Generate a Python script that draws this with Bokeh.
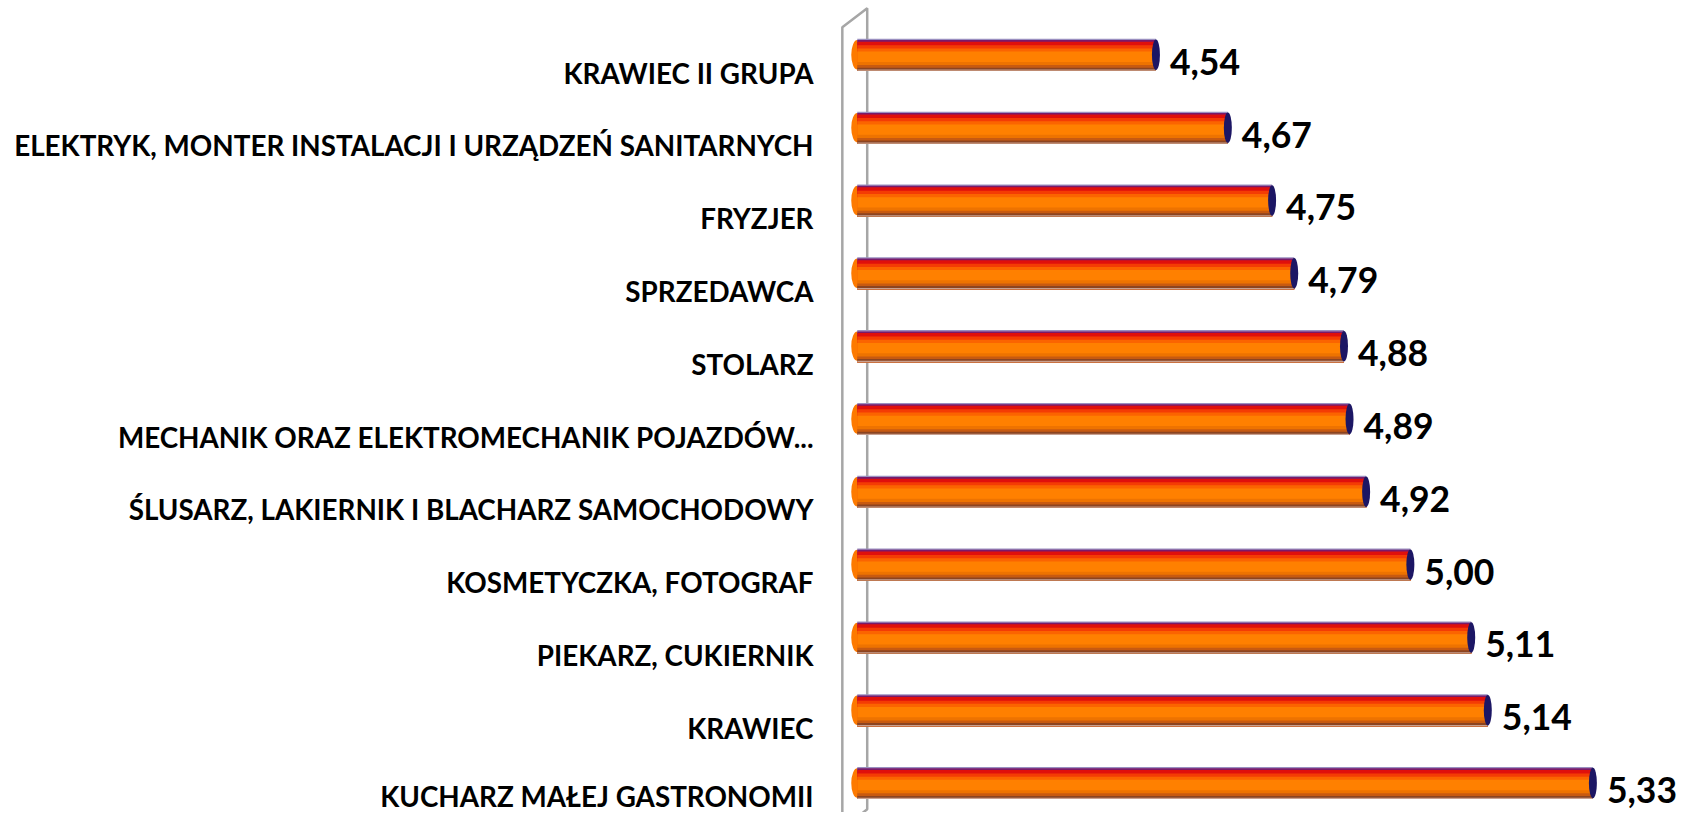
from bokeh.plotting import figure
from bokeh.models import FixedTicker, Range1d, ColumnDataSource
from bokeh.core.properties import value
from bokeh.embed import file_html
from bokeh.resources import INLINE

# ---- data (top to bottom as in the chart) ----
categories = [
    "KRAWIEC II GRUPA",
    "ELEKTRYK, MONTER INSTALACJI I URZĄDZEŃ SANITARNYCH",
    "FRYZJER",
    "SPRZEDAWCA",
    "STOLARZ",
    "MECHANIK ORAZ ELEKTROMECHANIK POJAZDÓW...",
    "ŚLUSARZ, LAKIERNIK I BLACHARZ SAMOCHODOWY",
    "KOSMETYCZKA, FOTOGRAF",
    "PIEKARZ, CUKIERNIK",
    "KRAWIEC",
    "KUCHARZ MAŁEJ GASTRONOMII",
]
values = [4.54, 4.67, 4.75, 4.79, 4.88, 4.89, 4.92, 5.00, 5.11, 5.14, 5.33]

AXIS_MIN = 4.0
n = len(categories)
ypos = [n - 1 - i for i in range(n)]          # top category highest
labels_txt = [f"{v:.2f}".replace(".", ",") for v in values]

BAR_H = 0.44
LABEL_DROP = 0.25

FONT = "Lato"

p = figure(width=1681, height=812, output_backend="svg", toolbar_location=None,
           x_range=Range1d(3.9462, 5.4902), y_range=Range1d(-0.404, 10.746),
           min_border_left=827, min_border_right=0, min_border_top=0, min_border_bottom=0)
p.outline_line_color = None
p.xgrid.visible = False
p.ygrid.visible = False
p.xaxis.visible = False
p.background_fill_color = "white"

# ---- 3D wall (thin side wall) ----
wf = AXIS_MIN - 0.027
wb = AXIS_MIN + 0.018
p.patch([wf, wb, wb, wf], [n - 1 + 0.38, n - 1 + 0.64, -0.36, -0.63],
        fill_color=None, line_color="#a6a6a6", line_width=2.5)

src = ColumnDataSource(dict(y=ypos, v=values, lab=labels_txt))

# left rounded end
p.ellipse(x=AXIS_MIN, y="y", width=12, width_units="screen", height=BAR_H * 0.92,
          fill_color="#fd7a00", line_color=None, source=src)

# cylinder-like gradient bands (start fraction from top, color); each band
# is drawn down to the bottom so that the next one covers it without seams
bands = [
    (0.00, "#9a8fc0"),
    (0.04, "#7a1a6a"),
    (0.09, "#e0100c"),
    (0.20, "#f43c04"),
    (0.30, "#fb6400"),
    (0.40, "#ff8000"),
    (0.72, "#ee7300"),
    (0.82, "#c85a10"),
    (0.90, "#8c4420"),
    (0.96, "#c8a090"),
]
for f0, col in bands:
    hgt = (1.0 - f0) * BAR_H
    off = BAR_H / 2 - f0 * BAR_H - hgt / 2
    p.hbar(y=[y + off for y in ypos], left=AXIS_MIN, right=values,
           height=hgt, fill_color=col, line_color=None)

# right end cap
p.ellipse(x="v", y="y", width=8, width_units="screen", height=BAR_H * 0.95,
          fill_color="#1c1664", line_color=None, source=src)

# value labels
p.text(x="v", y="y", text="lab", source=src, x_offset=14, y_offset=7,
       text_font=value(FONT), text_font_style="bold", text_font_size="35.5px",
       text_color="#000000", text_align="left", text_baseline="middle")

# category axis labels
ticks = [y - LABEL_DROP for y in ypos]
p.yaxis.ticker = FixedTicker(ticks=ticks)
p.yaxis.major_label_overrides = {t: c for t, c in zip(ticks, categories)}
p.yaxis.axis_line_color = None
p.yaxis.major_tick_line_color = None
p.yaxis.minor_tick_line_color = None
p.yaxis.major_tick_out = 0
p.yaxis.major_tick_in = 0
p.yaxis.major_label_standoff = 14
p.yaxis.major_label_text_font = FONT
p.yaxis.major_label_text_font_style = "bold"
p.yaxis.major_label_text_font_size = "27.8px"
p.yaxis.major_label_text_color = "#000000"

open("out.html", "w").write(file_html(p, INLINE))
